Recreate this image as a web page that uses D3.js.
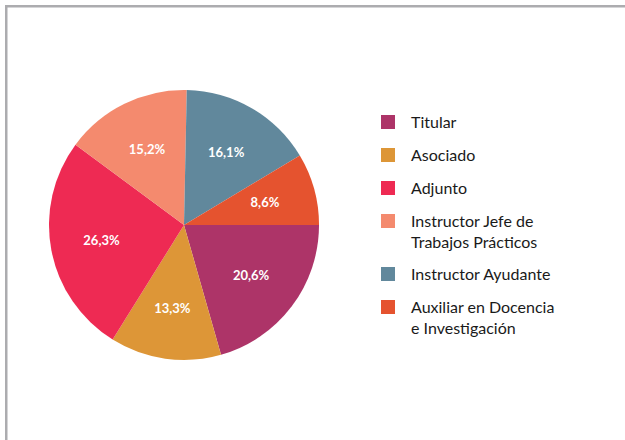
<!doctype html>
<html>
<head>
<meta charset="utf-8">
<script src="https://cdnjs.cloudflare.com/ajax/libs/d3/7.8.5/d3.min.js"></script>
<style>
  body { margin: 0; background: #fff; }
  text { font-family: "Lato", sans-serif; }
  .slice-label { fill: #fff; font-weight: 700; font-size: 13px; text-anchor: middle; }
  .legend-label { fill: #1a1a1a; font-size: 16px; }
</style>
</head>
<body>
<svg id="chart" width="625" height="440"></svg>
<script>
// chart values
var categories = ["Titular", "Asociado", "Adjunto", "Instructor Jefe de|Trabajos Prácticos", "Instructor Ayudante", "Auxiliar en Docencia|e Investigación"];
var values = [20.6, 13.3, 26.3, 15.2, 16.1, 8.6];
var valueLabels = ["20,6%", "13,3%", "26,3%", "15,2%", "16,1%", "8,6%"];
var colors = ["#ad3468", "#dd9637", "#ee2a53", "#f48a6e", "#61889c", "#e5532f"];

var svg = d3.select("#chart");

// gray frame (top + left visible)
svg.append("rect")
    .attr("x", 6.25).attr("y", 6.25)
    .attr("width", 700).attr("height", 500)
    .attr("fill", "none")
    .attr("stroke", "#acacaf")
    .attr("stroke-width", 2.5);

var cx = 184, cy = 225, radius = 135;

var pie = d3.pie()
    .sort(null)
    .startAngle(Math.PI / 2)
    .endAngle(Math.PI / 2 + 2 * Math.PI);

var arcs = pie(values);
var arc = d3.arc().innerRadius(0).outerRadius(radius);
var labelArc = d3.arc().innerRadius(84).outerRadius(84);

var g = svg.append("g").attr("transform", "translate(" + cx + "," + cy + ")");

g.selectAll("path")
    .data(arcs)
    .enter()
    .append("path")
    .attr("d", arc)
    .attr("fill", function(d, i) { return colors[i]; });

g.selectAll("text")
    .data(arcs)
    .enter()
    .append("text")
    .attr("class", "slice-label")
    .attr("transform", function(d) { return "translate(" + labelArc.centroid(d) + ")"; })
    .attr("dy", "0.35em")
    .text(function(d, i) { return valueLabels[i]; });

// legend
var legend = svg.append("g");
var y = 128;
categories.forEach(function(c, i) {
    var lines = c.split("|");
    legend.append("rect")
        .attr("x", 381).attr("y", y - 13)
        .attr("width", 14).attr("height", 14)
        .attr("fill", colors[i]);
    var t = legend.append("text")
        .attr("class", "legend-label")
        .attr("x", 411).attr("y", y);
    lines.forEach(function(l, j) {
        t.append("tspan").attr("x", 411).attr("dy", j == 0 ? 0 : 20.5).text(l);
    });
    y += 33 + 20 * (lines.length - 1);
});
</script>
</body>
</html>
